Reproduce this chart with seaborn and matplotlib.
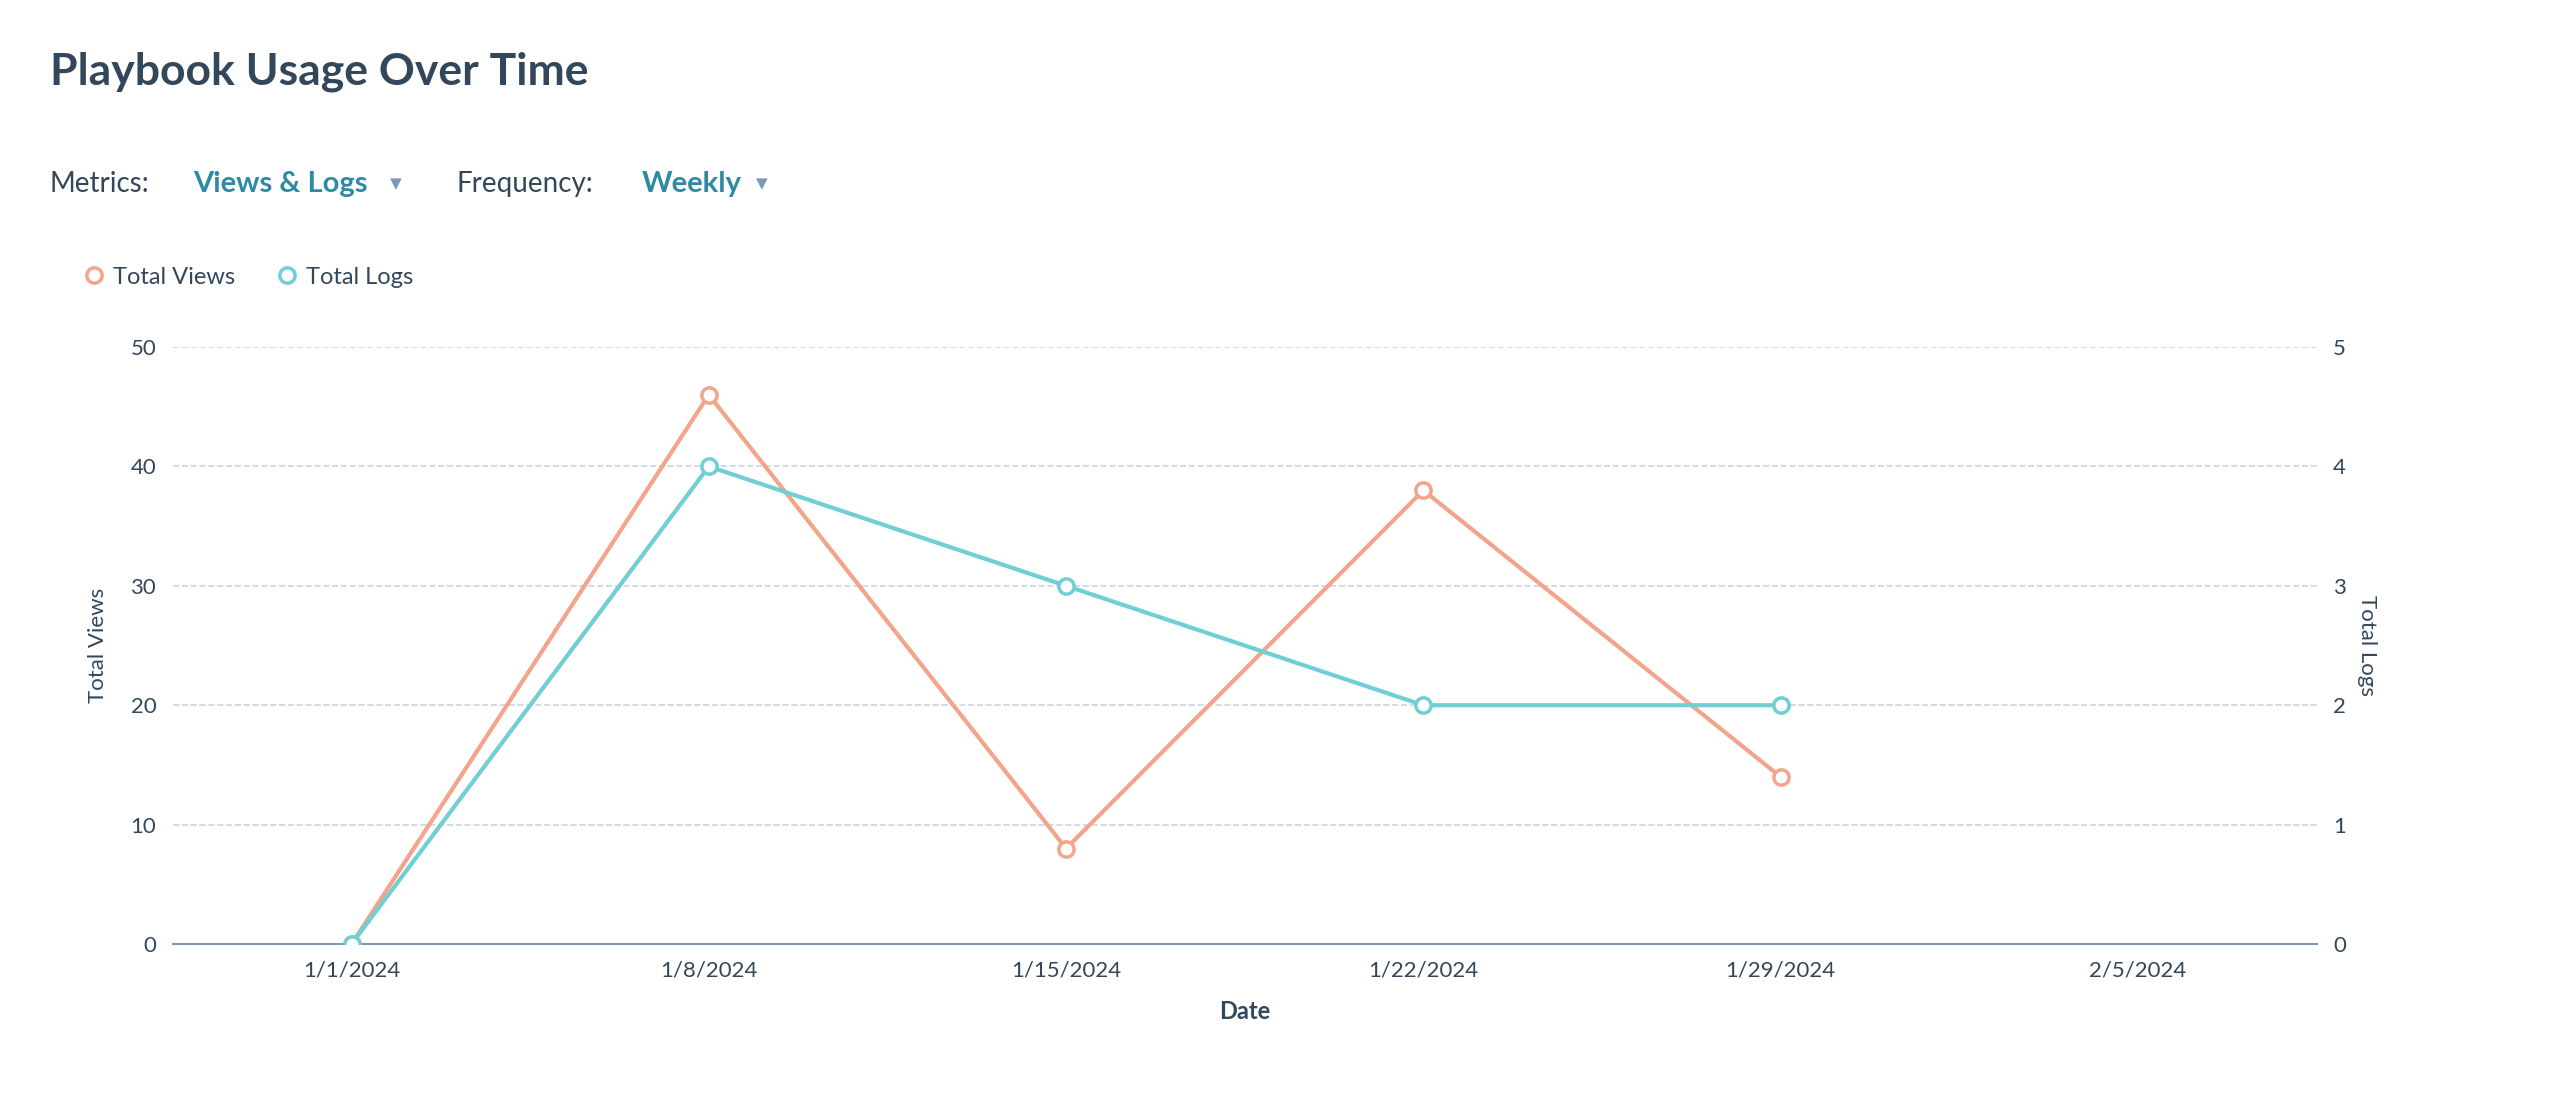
import matplotlib
matplotlib.use("Agg")
import matplotlib.pyplot as plt
from matplotlib.lines import Line2D
import seaborn as sns
import pandas as pd
import numpy as np

# data
dates = ["1/1/2024", "1/8/2024", "1/15/2024", "1/22/2024", "1/29/2024", "2/5/2024"]
total_views = [0, 46, 8, 38, 14, np.nan]
total_logs = [0, 4, 3, 2, 2, np.nan]

VIEWS_C = "#f2a58a"
LOGS_C = "#6fcfd4"
DARK = "#33475b"
LINK = "#2e8aa3"

plt.rcParams["font.family"] = "Lato"
df = pd.DataFrame({"x": range(len(dates)), "views": total_views, "logs": total_logs})

fig = plt.figure(figsize=(25.58, 11.0), dpi=100)
ax = fig.add_axes([0.0676, 0.1418, 0.838, 0.5427])
ax2 = ax.twinx()

ax.set_ylim(0, 50)
ax.set_yticks(range(0, 51, 10))
ax.grid(axis="y", color="#cbd6e2", linestyle="--", linewidth=1.2)
ax.set_axisbelow(True)

mk = dict(marker="o", markersize=11, markerfacecolor="white", markeredgewidth=2.5, linewidth=3)
sns.lineplot(data=df, x="x", y="views", ax=ax, color=VIEWS_C, markeredgecolor=VIEWS_C, **mk)
sns.lineplot(data=df, x="x", y="logs", ax=ax2, color=LOGS_C, markeredgecolor=LOGS_C, **mk)

ax2.set_ylim(0, 5)
ax2.set_yticks(range(0, 6))
ax.set_xlim(-0.5, 5.5)
ax.set_xticks(range(len(dates)))
ax.set_xticklabels(dates)

for a in (ax, ax2):
    for s in a.spines.values():
        s.set_visible(False)
    a.tick_params(length=0, labelsize=16, labelcolor=DARK, pad=12)
ax.spines["bottom"].set_visible(True)
ax.spines["bottom"].set_color("#7c98b6")
ax.spines["bottom"].set_linewidth(1.5)

ax.set_xlabel("Date", fontsize=17, fontweight="bold", color=DARK, labelpad=14)
ax.set_ylabel("Total Views", fontsize=16, color=DARK, labelpad=16)
ax2.set_ylabel("Total Logs", fontsize=16, color=DARK, labelpad=22, rotation=270)

# header text
fig.text(0.0195, 0.935, "Playbook Usage Over Time", fontsize=32, fontweight="bold", color=DARK, va="center")
fig.text(0.0195, 0.833, "Metrics:", fontsize=20, color=DARK, va="center")
fig.text(0.0755, 0.833, "Views & Logs", fontsize=21, fontweight="bold", color=LINK, va="center")
fig.text(0.1525, 0.833, "▼", fontsize=11, color="#7c98b6", va="center", family="DejaVu Sans")
fig.text(0.1785, 0.833, "Frequency:", fontsize=20, color=DARK, va="center")
fig.text(0.251, 0.833, "Weekly", fontsize=21, fontweight="bold", color=LINK, va="center")
fig.text(0.2955, 0.833, "▼", fontsize=11, color="#7c98b6", va="center", family="DejaVu Sans")

# legend
handles = [
    Line2D([], [], marker="o", linestyle="", markersize=11, markerfacecolor="white",
           markeredgecolor=VIEWS_C, markeredgewidth=2.5, label="Total Views"),
    Line2D([], [], marker="o", linestyle="", markersize=11, markerfacecolor="white",
           markeredgecolor=LOGS_C, markeredgewidth=2.5, label="Total Logs"),
]
leg = fig.legend(handles=handles, loc="center left", bbox_to_anchor=(0.023, 0.748), ncol=2,
                 frameon=False, fontsize=17, handletextpad=0.2, columnspacing=1.6,
                 handlelength=1.2)
for t in leg.get_texts():
    t.set_color(DARK)

fig.savefig("out.png", dpi=100, facecolor="white")
